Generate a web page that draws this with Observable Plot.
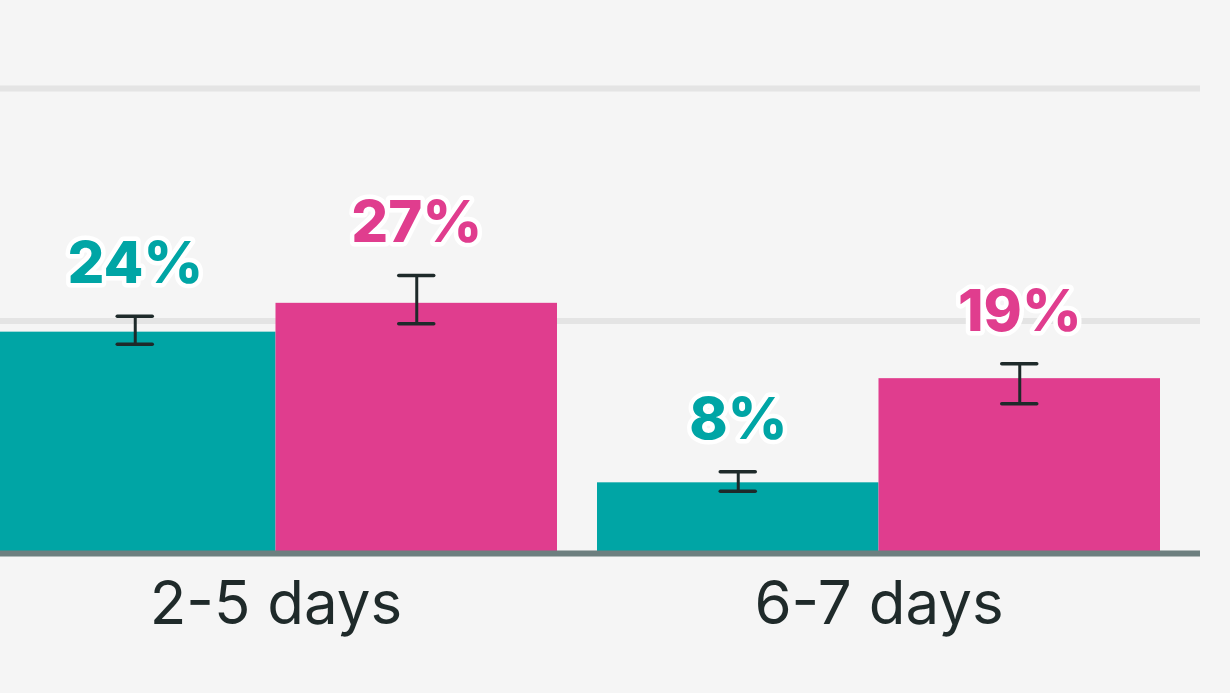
<!DOCTYPE html>
<html><head><meta charset="utf-8">
<script src="https://cdn.jsdelivr.net/npm/d3@7"></script>
<script src="https://cdn.jsdelivr.net/npm/@observablehq/plot@0.6"></script>
<style>html,body{margin:0;padding:0;background:#f5f5f5;overflow:hidden}</style>
</head><body><div id="chart"></div>
<script>
const groups = ["2-5 days", "6-7 days"];
const tealValues = [23.8, 7.6];
const tealLow = [22.5, 6.7];
const tealHigh = [25.5, 8.8];
const pinkValues = [26.9, 18.8];
const pinkLow = [24.7, 16.1];
const pinkHigh = [29.9, 20.4];
const gridTicks = [25, 50];

const TEAL = "#00a5a5", PINK = "#e03d8e", INK = "#1e2a2a";
const W = 1230, H = 693;
const xRange = [-6, 1160];
const padIn = 40 / 603;
const bw = d3.scaleBand().domain(groups).range(xRange).paddingInner(padIn).paddingOuter(0).bandwidth();
const half = bw / 2, q = bw / 4, cap = 17.5;

const rows = (vals, lo, hi) => groups.map((g, i) => ({group: g, value: vals[i], low: lo[i], high: hi[i], label: Math.round(vals[i]) + "%"}));
const teal = rows(tealValues, tealLow, tealHigh);
const pink = rows(pinkValues, pinkLow, pinkHigh);

const errMarks = (data, color, side) => [
  Plot.ruleX(data, {x: "group", y1: "low", y2: "high", dx: side * q, stroke: INK, strokeWidth: 3}),
  Plot.tickY(data, {x: "group", y: "low", dx: side * q, insetLeft: half - cap, insetRight: half - cap, stroke: INK, strokeWidth: 3.5, strokeLinecap: "round"}),
  Plot.tickY(data, {x: "group", y: "high", dx: side * q, insetLeft: half - cap, insetRight: half - cap, stroke: INK, strokeWidth: 3.5, strokeLinecap: "round"}),
  Plot.text(data, {x: "group", y: "high", text: "label", dx: side * q, dy: -33, lineAnchor: "bottom", fill: color, stroke: "white", strokeWidth: 9, fontSize: 58, fontWeight: 800, fontFamily: "Inter"})
];

const chart = Plot.plot({
  width: W, height: H,
  marginLeft: 0, marginRight: 30, marginTop: 0, marginBottom: H - 553,
  style: {background: "#f5f5f5", fontFamily: "Inter", overflow: "visible"},
  x: {domain: groups, range: xRange, paddingInner: padIn, paddingOuter: 0, axis: null},
  y: {domain: [0, 50], range: [553, 88], axis: null},
  marks: [
    Plot.ruleY(gridTicks, {stroke: "#e4e4e4", strokeWidth: 6}),
    Plot.barY(teal, {x: "group", y: "value", fill: TEAL, insetRight: half, insetLeft: 0}),
    Plot.barY(pink, {x: "group", y: "value", fill: PINK, insetLeft: half, insetRight: 0}),
    Plot.ruleY([0], {stroke: "#6d7f7f", strokeWidth: 6}),
    ...errMarks(teal, TEAL, -1),
    ...errMarks(pink, PINK, 1),
    Plot.axisX({tickSize: 0, tickPadding: 28, fontSize: 60, color: "#1f2a2a", fontFamily: "Inter", label: null})
  ]
});
document.getElementById("chart").appendChild(chart);
</script>
</body></html>
